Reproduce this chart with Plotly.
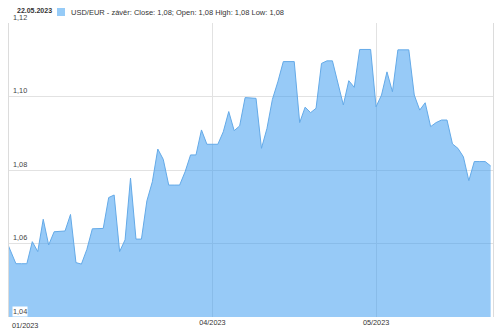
import pandas as pd
import plotly.graph_objects as go

# Daily USD/EUR close values, 22.02.2023 - 22.05.2023
start_date = "2023-02-22"
values = [
    1.0616, 1.0580, 1.0545, 1.0545, 1.0545, 1.0605, 1.0578, 1.0666, 1.0596, 1.0632,
    1.0633, 1.0634, 1.0679, 1.0548, 1.0544, 1.0584, 1.0640, 1.0640, 1.0641, 1.0725,
    1.0732, 1.0578, 1.0610, 1.0778, 1.0612, 1.0612, 1.0716, 1.0768, 1.0857, 1.0829,
    1.0759, 1.0759, 1.0759, 1.0795, 1.0841, 1.0841, 1.0909, 1.0870, 1.0870, 1.0870,
    1.0904, 1.0959, 1.0907, 1.0920, 1.0997, 1.0996, 1.0995, 1.0859, 1.0913, 1.0992,
    1.1040, 1.1095, 1.1095, 1.1095, 1.0929, 1.0971, 1.0956, 1.0968, 1.1090, 1.1097,
    1.1097, 1.1040, 1.0977, 1.1043, 1.1025, 1.1128, 1.1128, 1.1128, 1.0972, 1.1004,
    1.1067, 1.1013, 1.1127, 1.1127, 1.1127, 1.1004, 1.0963, 1.0983, 1.0918, 1.0929,
    1.0936, 1.0936, 1.0871, 1.0859, 1.0836, 1.0771, 1.0823, 1.0823, 1.0823, 1.0811,
]
dates = pd.date_range(start_date, periods=len(values), freq="D")

x_tick_vals = ["2023-04-01", "2023-05-01"]
x_tick_text = ["04/2023", "05/2023"]
first_x_label = "01/2023"
y_tick_vals = [1.04, 1.06, 1.08, 1.10, 1.12]
y_tick_text = ["1,04", "1,06", "1,08", "1,10", "1,12"]
header_date = "22.05.2023"
series_name = "USD/EUR - závěr: Close: 1,08; Open: 1,08 High: 1,08 Low: 1,08"

FONT = "Liberation Sans, Arial, sans-serif"
fill_col = "rgba(47,150,240,0.5)"
line_col = "rgba(100,170,232,1)"
grid_col = "#e2e2e2"

fig = go.Figure()
fig.add_trace(go.Scatter(
    x=dates, y=values, mode="lines", fill="tozeroy",
    fillcolor=fill_col, line=dict(color=line_col, width=1),
    name=series_name, showlegend=False,
))

x0 = dates[0] + pd.Timedelta(hours=17.5)
x1 = dates[-1] + pd.Timedelta(hours=10.3)

fig.update_layout(
    width=500, height=333,
    margin=dict(l=9, r=7, t=23, b=16),
    paper_bgcolor="white", plot_bgcolor="white",
    font=dict(family=FONT, size=7, color="#333"),
    xaxis=dict(
        type="date", range=[x0, x1],
        tickmode="array", tickvals=x_tick_vals, ticktext=x_tick_text,
        showgrid=True, gridcolor=grid_col, gridwidth=1,
        showline=False, zeroline=False, ticks="",
        tickfont=dict(size=7.3, color="#333"),
    ),
    yaxis=dict(
        range=[1.04, 1.12],
        tickmode="array", tickvals=y_tick_vals, ticktext=y_tick_text,
        showticklabels=False,
        showgrid=True, gridcolor=grid_col, gridwidth=1,
        showline=True, mirror=True, linecolor="#dcdcdc", linewidth=1,
        zeroline=False, ticks="",
    ),
)

# y tick labels drawn inside the plot, above their grid lines
for v, t in zip(y_tick_vals, y_tick_text):
    fig.add_annotation(
        x=0, xref="paper", y=v, yref="y", yshift=6, xshift=3,
        text=t, showarrow=False, xanchor="left", yanchor="middle",
        font=dict(size=7.3, color="#444", family=FONT),
        bgcolor="white" if v == y_tick_vals[0] else None, borderpad=0,
    )

# first x label (left-aligned at the start of the axis)
fig.add_annotation(
    x=0, xref="paper", y=0, yref="paper", yshift=-8, xshift=1,
    text=first_x_label, showarrow=False, xanchor="left", yanchor="middle",
    font=dict(size=7.3, color="#333", family=FONT),
)

# header: date + legend entry
fig.add_annotation(
    x=(15 - 9) / 484, xref="paper", y=1 + (23 - 10) / 294, yref="paper",
    text="<b>%s</b>" % header_date, showarrow=False,
    xanchor="left", yanchor="middle", font=dict(size=7, color="#333", family=FONT),
)

fig.add_shape(
    type="rect", xref="paper", yref="paper",
    x0=(57 - 9) / 484, x1=(65 - 9) / 484,
    y0=1 + (23 - 16) / 294, y1=1 + (23 - 8) / 294,
    fillcolor="rgba(150,203,247,1)", line=dict(width=0),
)
fig.add_annotation(
    x=(69 - 9) / 484, xref="paper", y=1 + (23 - 12) / 294, yref="paper",
    text=series_name, showarrow=False,
    xanchor="left", yanchor="middle", font=dict(size=7.5, color="#333", family=FONT),
)

fig.write_html("out.html")
